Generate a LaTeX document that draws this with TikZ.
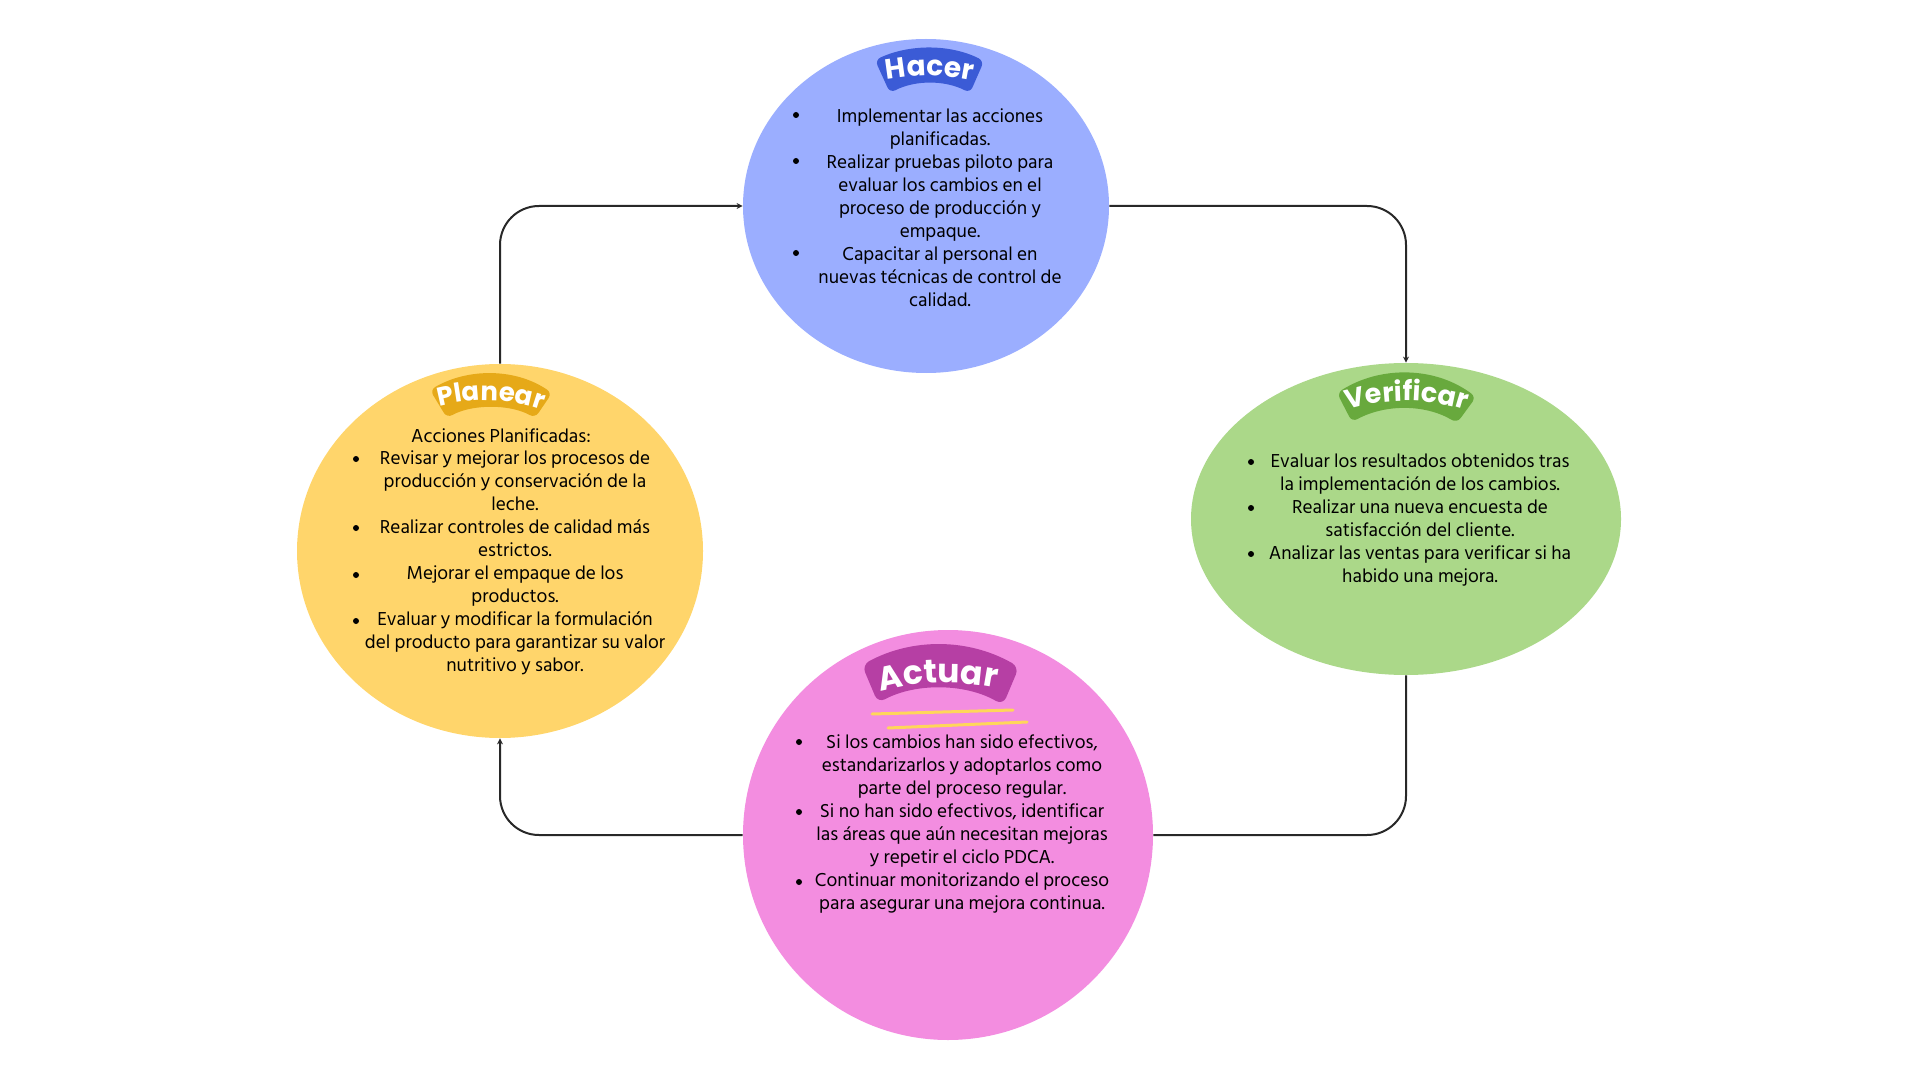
\documentclass[tikz,border=0pt]{standalone}
\usepackage{fontspec}
\setmainfont{Hind Siliguri}
\newfontfamily\badgefont{Poppins}
\usetikzlibrary{shapes.geometric,arrows.meta,decorations.text}

\definecolor{hacerbg}{RGB}{155,174,255}
\definecolor{hacerbd}{RGB}{59,91,214}
\definecolor{planbg}{RGB}{255,213,107}
\definecolor{planbd}{RGB}{230,169,24}
\definecolor{verbg}{RGB}{171,216,137}
\definecolor{verbd}{RGB}{104,169,61}
\definecolor{actbg}{RGB}{243,141,224}
\definecolor{actbd}{RGB}{182,63,164}
\definecolor{streak}{RGB}{255,214,90}
\definecolor{wire}{RGB}{40,40,40}

\tikzset{
  phase/.style={ellipse, draw=none, inner sep=0pt},
  txt/.style={align=center, inner sep=0pt, font=\fontsize{9.6pt}{11.5pt}\selectfont},
  flow/.style={draw=wire, line width=1pt, rounded corners=19.5pt}
}

\begin{document}
\begin{tikzpicture}[x=0.5pt,y=-0.5pt]
\useasboundingbox (0,0) rectangle (1920,1080);

%Shape: Ellipses
\node[phase, fill=hacerbg, minimum width=183pt, minimum height=167pt] (ha) at (926,206) {};
\node[phase, fill=planbg, minimum width=203pt, minimum height=187pt] (pl) at (500,551) {};
\node[phase, fill=verbg, minimum width=215pt, minimum height=156pt] (ve) at (1406,519) {};
\node[phase, fill=actbg, minimum width=205pt, minimum height=205pt] (ac) at (948,835) {};

%Straight Lines
\draw[flow, -{Stealth[length=3pt,width=3pt]}] (pl.north) |- (ha.west);
\draw[flow, -{Stealth[length=3pt,width=3pt]}] (ha.east) -| (ve.north);
\draw[flow] (ve.south) |- (ac.east);
\draw[flow, -{Stealth[length=3pt,width=3pt]}] (ac.west) -| (pl.south);

%Shape: Badge Hacer
\fill[hacerbd, rounded corners=3] (875,60) .. controls (910,44) and (950,44) .. (984,61) -- (970,93) .. controls (945,80) and (915,80) .. (890,93) -- cycle;
\path[decorate, decoration={text along path, text align=center, text color=white, text={|\badgefont\bfseries\fontsize{14pt}{14pt}\selectfont|Hacer}}] (880,81) .. controls (912,74) and (946,74) .. (979,82);

%Shape: Badge Planear
\fill[planbd, rounded corners=3] (430,390) .. controls (468,368) and (515,368) .. (552,393) -- (535,418) .. controls (510,404) and (472,404) .. (447,418) -- cycle;
\path[decorate, decoration={text along path, text align=center, text color=white, text={|\badgefont\bfseries\fontsize{13pt}{13pt}\selectfont|Planear}}] (434,408) .. controls (470,397) and (510,397) .. (547,412);

%Shape: Badge Verificar
\fill[verbd, rounded corners=3] (1337,393) .. controls (1380,366) and (1434,366) .. (1476,397) -- (1457,423) .. controls (1425,404) and (1385,404) .. (1352,422) -- cycle;
\path[decorate, decoration={text along path, text align=center, text color=white, text={|\badgefont\bfseries\fontsize{13.5pt}{13.5pt}\selectfont|Verificar}}] (1340,412) .. controls (1382,397) and (1432,397) .. (1473,413);

%Shape: Badge Actuar
\fill[actbd, rounded corners=4] (862,665) .. controls (912,638) and (968,638) .. (1019,667) -- (1003,705) .. controls (965,683) and (915,683) .. (878,703) -- cycle;
\path[decorate, decoration={text along path, text align=center, text color=white, text={|\badgefont\bfseries\fontsize{16.5pt}{16.5pt}\selectfont|Actuar}}] (872,694) .. controls (915,680) and (962,680) .. (1005,690);
\draw[streak, line width=1.5pt, line cap=round] (872,714) -- (1013,710);
\draw[streak, line width=1.5pt, line cap=round] (888,728) -- (1027,722);

% Text Node Hacer
\node[txt] (hatxt) at (940,207.5) {Implementar las acciones\\planificadas.\\Realizar pruebas piloto para\\evaluar los cambios en el\\proceso de producción y\\empaque.\\Capacitar al personal en\\nuevas técnicas de control de\\calidad.};
\fill (796,115) circle (3);
\fill (796,161) circle (3);
\fill (796,253) circle (3);

% Text Node Planear
\node[txt] (plhead) at (501,436) {Acciones Planificadas:};
\node[txt] (pltxt) at (515,563) {Revisar y mejorar los procesos de\\producción y conservación de la\\leche.\\Realizar controles de calidad más\\estrictos.\\Mejorar el empaque de los\\productos.\\Evaluar y modificar la formulación\\del producto para garantizar su valor\\nutritivo y sabor.};
\fill (356,459) circle (3);
\fill (356,528) circle (3);
\fill (356,575) circle (3);
\fill (356,621) circle (3);

% Text Node Verificar
\node[txt] (vetxt) at (1420,519.5) {Evaluar los resultados obtenidos tras\\la implementación de los cambios.\\Realizar una nueva encuesta de\\satisfacción del cliente.\\Analizar las ventas para verificar si ha\\habido una mejora.};
\fill (1251,462) circle (3);
\fill (1251,508) circle (3);
\fill (1251,554) circle (3);

% Text Node Actuar
\node[txt] (actxt) at (962,823.5) {Si los cambios han sido efectivos,\\estandarizarlos y adoptarlos como\\parte del proceso regular.\\Si no han sido efectivos, identificar\\las áreas que aún necesitan mejoras\\y repetir el ciclo PDCA.\\Continuar monitorizando el proceso\\para asegurar una mejora continua.};
\fill (799,742) circle (3);
\fill (799,812) circle (3);
\fill (799,882) circle (3);

\end{tikzpicture}
\end{document}
